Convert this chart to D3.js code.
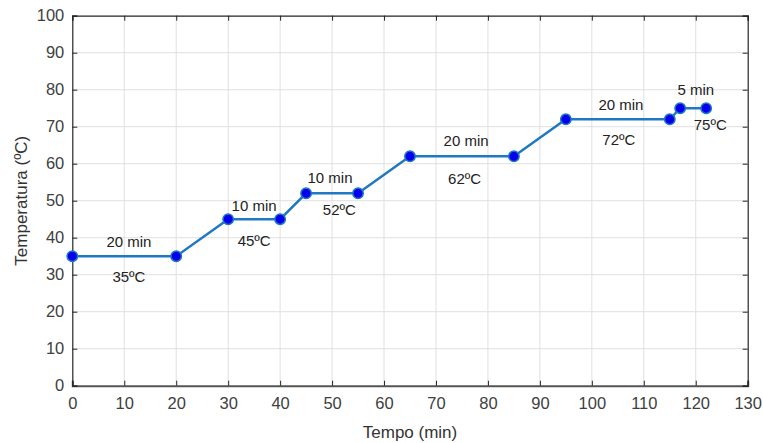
<!DOCTYPE html>
<html><head><meta charset="utf-8">
<script src="https://cdn.jsdelivr.net/npm/d3@7"></script>
<style>body{margin:0;background:#fff;} text{font-family:"Liberation Sans",Arial,sans-serif;}</style>
</head><body><svg id="c" width="763" height="443"></svg>
<script>
const times = [0, 20, 30, 40, 45, 55, 65, 85, 95, 115, 117, 122];
const temps = [35, 35, 45, 45, 52, 52, 62, 62, 72, 72, 75, 75];
const xTicks = [0,10,20,30,40,50,60,70,80,90,100,110,120,130];
const yTicks = [0,10,20,30,40,50,60,70,80,90,100];
const annText = ["20 min","35ºC","10 min","45ºC","10 min","52ºC","20 min","62ºC","20 min","72ºC","5 min","75ºC"];
const annX = [10.9, 10.9, 35, 35, 49.6, 51.4, 75.8, 75.5, 105.6, 105.2, 120, 122.8];
const annY = [38.9, 29.5, 48.8, 39.2, 56.3, 47.5, 66.2, 56, 75.9, 66.6, 80.1, 70.7];
const xLabel = "Tempo (min)";
const yLabel = "Temperatura (ºC)";

const svg = d3.select("#c");
const L = 72.3, R = 747.7, T = 15.7, B = 385.7;
const x = d3.scaleLinear().domain([0,130]).range([L,R]);
const y = d3.scaleLinear().domain([0,100]).range([B,T]);

// grid
const g = svg.append("g");
g.selectAll(".gx").data(xTicks.slice(1,-1)).enter().append("line")
  .attr("x1",d=>x(d)).attr("x2",d=>x(d)).attr("y1",T).attr("y2",B)
  .attr("stroke","#e0e0e0").attr("stroke-width",1);
g.selectAll(".gy").data(yTicks.slice(1,-1)).enter().append("line")
  .attr("y1",d=>y(d)).attr("y2",d=>y(d)).attr("x1",L).attr("x2",R)
  .attr("stroke","#e0e0e0").attr("stroke-width",1);

// axes
const axColor = "#262626";
const xa = svg.append("g").attr("transform",`translate(0,${B})`)
  .call(d3.axisBottom(x).tickValues(xTicks).tickSize(-5).tickPadding(12).tickFormat(d3.format("d")));
const xt = svg.append("g").attr("transform",`translate(0,${T})`)
  .call(d3.axisTop(x).tickValues(xTicks).tickSize(-5).tickFormat(""));
const ya = svg.append("g").attr("transform",`translate(${L},0)`)
  .call(d3.axisLeft(y).tickValues(yTicks).tickSize(-5).tickPadding(8).tickFormat(d3.format("d")));
const yr = svg.append("g").attr("transform",`translate(${R},0)`)
  .call(d3.axisRight(y).tickValues(yTicks).tickSize(-5).tickFormat(""));
[xa,xt,ya,yr].forEach(a=>{
  a.select(".domain").attr("stroke",axColor).attr("stroke-width",1.2);
  a.selectAll(".tick line").attr("stroke",axColor);
  a.selectAll(".tick text").attr("fill","#404040").style("font-size","16.5px").style("font-family","'Liberation Sans',Arial,sans-serif");
});
xa.select(".domain").attr("stroke","#555").attr("stroke-width",2);

// line
const line = d3.line().x((d,i)=>x(times[i])).y((d,i)=>y(temps[i]));
svg.append("path").datum(temps).attr("d",line).attr("fill","none")
  .attr("stroke","#1f78c1").attr("stroke-width",2.4);
svg.selectAll(".pt").data(temps).enter().append("circle")
  .attr("cx",(d,i)=>x(times[i])).attr("cy",d=>y(d)).attr("r",5.2)
  .attr("fill","#0000f0").attr("stroke","#1f78c1").attr("stroke-width",1.5);

// annotations
svg.selectAll(".ann").data(annText).enter().append("text")
  .attr("x",(d,i)=>x(annX[i])).attr("y",(d,i)=>y(annY[i]))
  .attr("text-anchor","middle").attr("dominant-baseline","central")
  .attr("fill","#222").style("font-size","15px").text(d=>d);

// axis labels
svg.append("text").attr("x",(L+R)/2).attr("y",438).attr("text-anchor","middle")
  .attr("fill","#333").style("font-size","17px").text(xLabel);
svg.append("text").attr("transform",`translate(27,${(T+B)/2}) rotate(-90)`).attr("text-anchor","middle")
  .attr("fill","#333").style("font-size","17px").text(yLabel);
</script></body></html>
